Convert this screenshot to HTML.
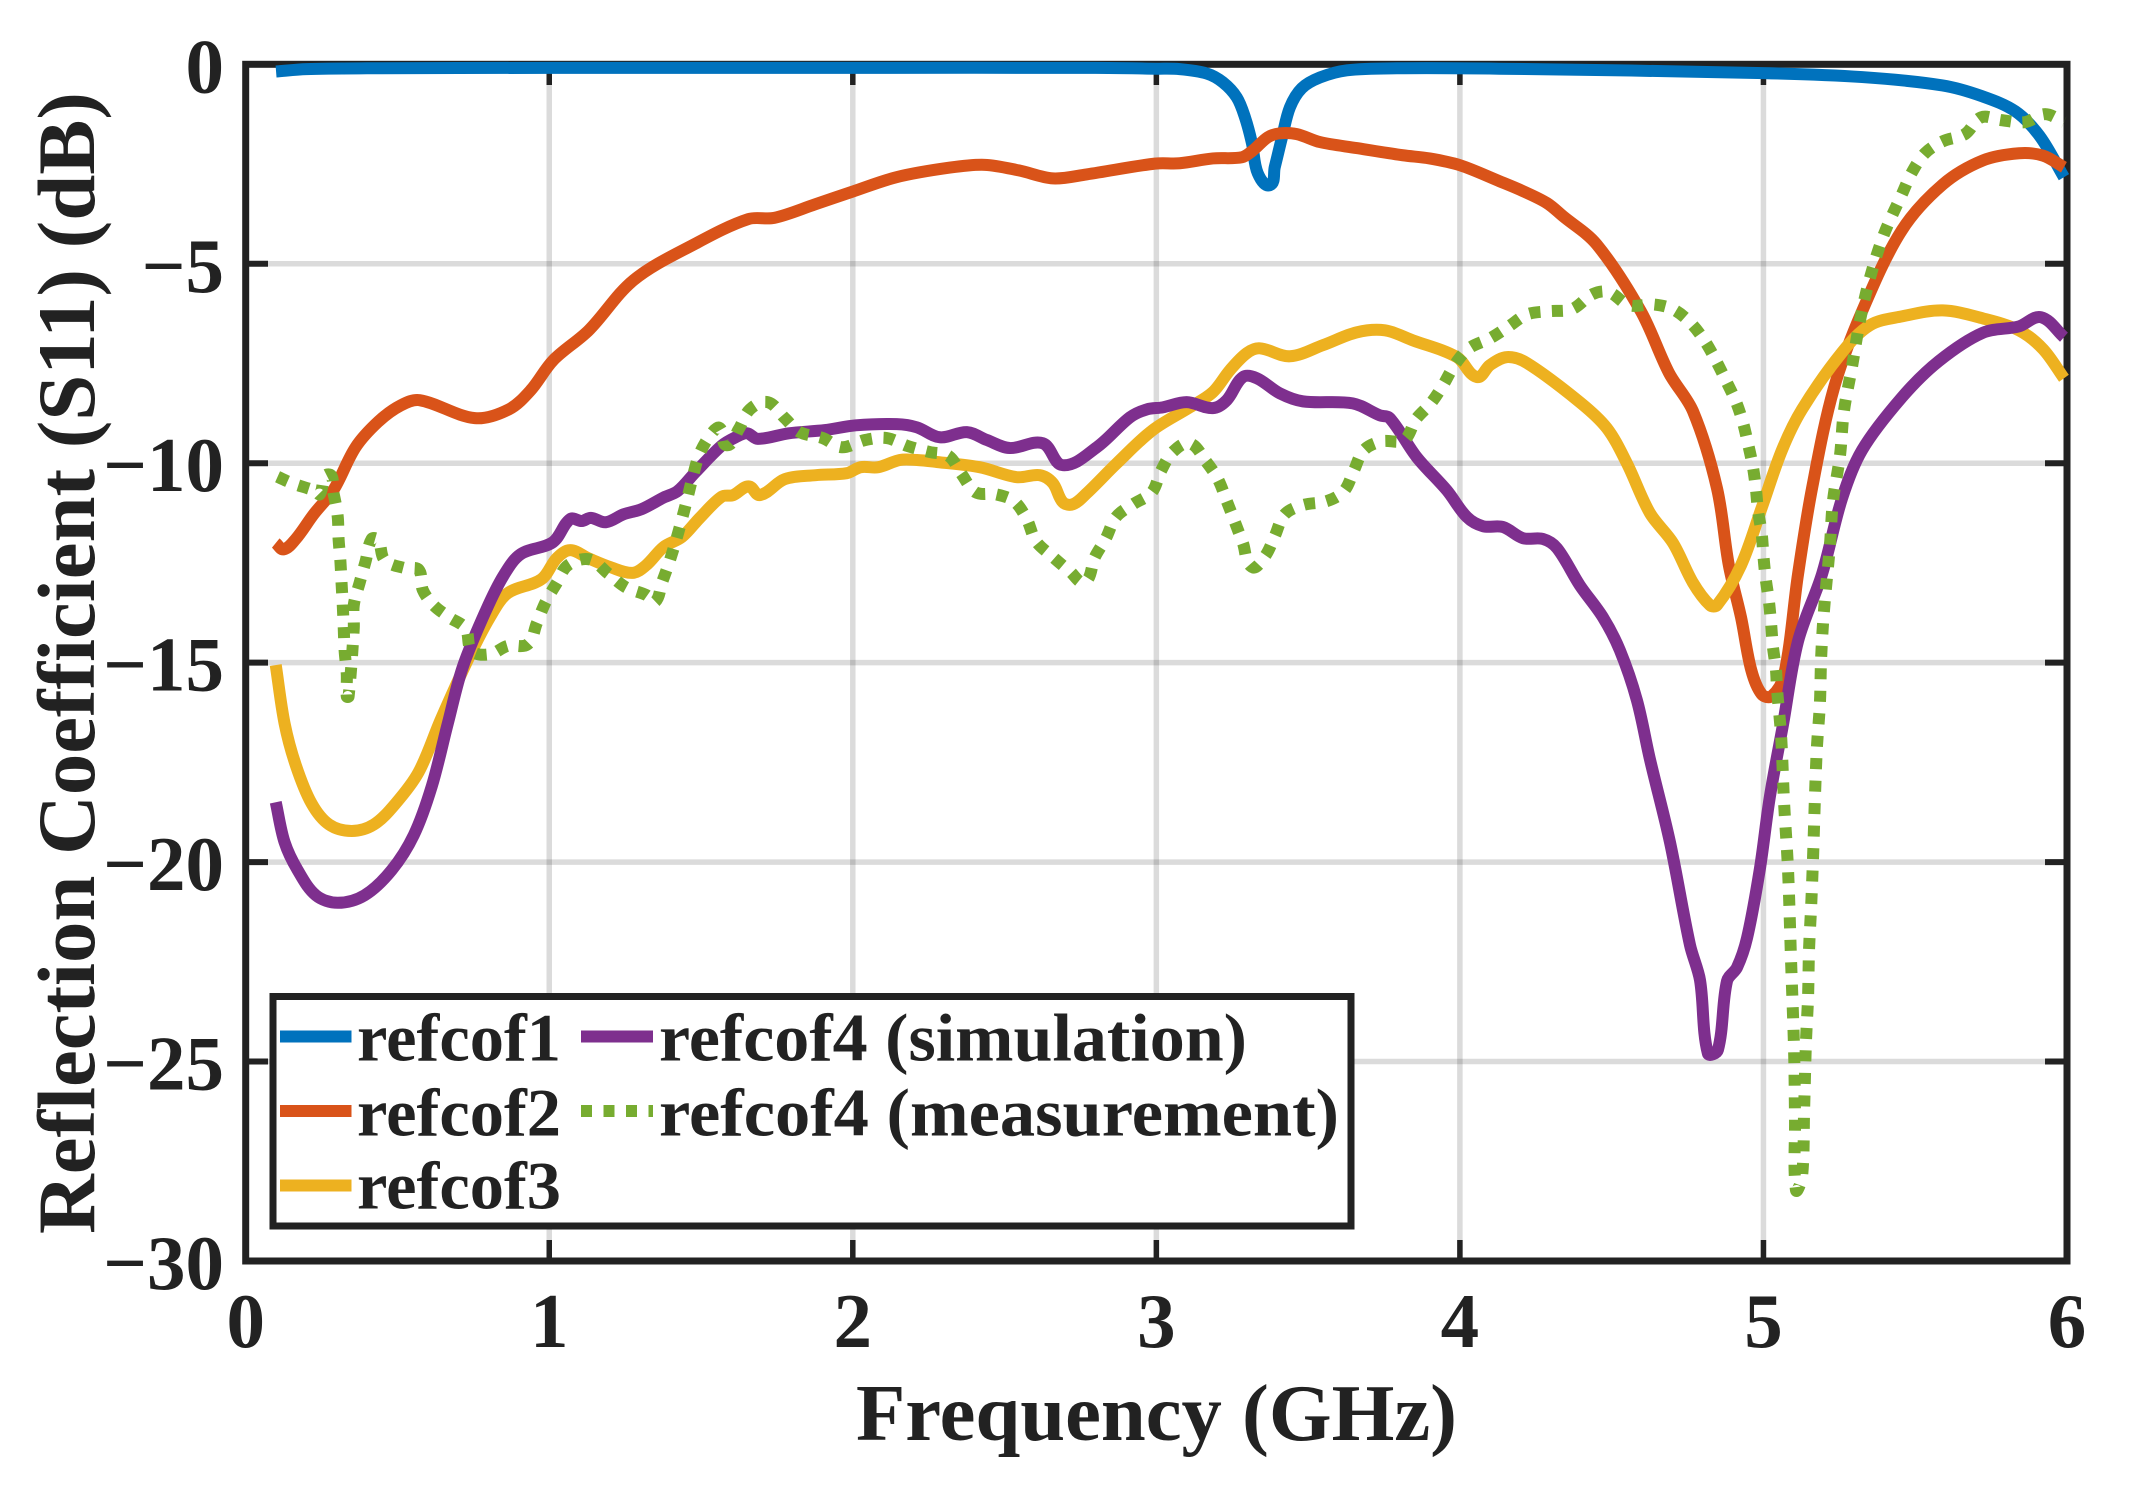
<!DOCTYPE html>
<html>
<head>
<meta charset="utf-8">
<title>Reflection Coefficient</title>
<style>
html,body{margin:0;padding:0;background:#fff;}
svg{display:block;}
text{font-family:"Liberation Serif",serif;font-weight:bold;fill:#222;}
</style>
</head>
<body>
<svg id="chart" xmlns="http://www.w3.org/2000/svg" width="2131" height="1499" viewBox="0 0 2131 1499">
  <rect x="0" y="0" width="2131" height="1499" fill="#fff"/>
  <g id="grid"></g>
  <rect x="245.7" y="64.3" width="1821.3" height="1196.7" fill="none" stroke="#222" stroke-width="7"/>
  <g id="ticks"></g>
  <g id="series"></g>
  <g id="tick-labels"></g>
  <text x="1156.5" y="1440" font-size="80" text-anchor="middle" textLength="601" lengthAdjust="spacingAndGlyphs">Frequency (GHz)</text>
  <text transform="translate(94,663) rotate(-90)" x="0" y="0" font-size="82" text-anchor="middle" textLength="1142" lengthAdjust="spacingAndGlyphs">Reflection Coefficient (S11) (dB)</text>
  <g>
    <rect x="273" y="996.5" width="1078" height="229.5" fill="#fff" stroke="#222" stroke-width="7"/>
    <line x1="280" x2="351.5" y1="1036.5" y2="1036.5" stroke="#0072BD" stroke-width="12"/>
    <text x="357" y="1060.5" font-size="68" textLength="204" lengthAdjust="spacingAndGlyphs">refcof1</text>
    <line x1="280" x2="351.5" y1="1111" y2="1111" stroke="#D95319" stroke-width="12"/>
    <text x="357" y="1135.5" font-size="68" textLength="204" lengthAdjust="spacingAndGlyphs">refcof2</text>
    <line x1="280" x2="351.5" y1="1185.5" y2="1185.5" stroke="#EDB120" stroke-width="12"/>
    <text x="357" y="1208.5" font-size="68" textLength="204" lengthAdjust="spacingAndGlyphs">refcof3</text>
    <line x1="581" x2="653" y1="1036.5" y2="1036.5" stroke="#7E2F8E" stroke-width="12"/>
    <text x="659" y="1060.5" font-size="68" textLength="588" lengthAdjust="spacingAndGlyphs">refcof4 (simulation)</text>
    <line x1="581" x2="653" y1="1111" y2="1111" stroke="#77AC30" stroke-width="12" stroke-dasharray="11 11.5"/>
    <text x="659" y="1135.5" font-size="68" textLength="680" lengthAdjust="spacingAndGlyphs">refcof4 (measurement)</text>
  </g>
</svg>
<script>
const xTickValues = [0, 1, 2, 3, 4, 5, 6];
const xTickLabels = ["0", "1", "2", "3", "4", "5", "6"];
const yTickValues = [0, -5, -10, -15, -20, -25, -30];
const yTickLabels = ["0", "\u22125", "\u221210", "\u221215", "\u221220", "\u221225", "\u221230"];

const refcof1Freq = [0.1,0.2,0.4,1,2,2.8,3.0,3.077,3.166,3.219,3.265,3.292,3.315,3.334,3.374,3.39,3.414,3.44,3.479,3.539,3.628,3.793,4.13,5,5.325,5.59,5.72,5.83,5.91,5.99];
const refcof1Values = [-0.18,-0.12,-0.1,-0.09,-0.09,-0.09,-0.11,-0.12,-0.23,-0.45,-0.83,-1.33,-1.98,-2.73,-3.03,-2.58,-1.83,-1.08,-0.6,-0.33,-0.15,-0.1,-0.11,-0.22,-0.32,-0.53,-0.8,-1.18,-1.8,-2.83];

const refcof2Freq = [0.099,0.125,0.165,0.224,0.29,0.362,0.438,0.511,0.573,0.755,0.867,0.939,1.013,1.13,1.278,1.483,1.656,1.741,1.876,1.996,2.144,2.32,2.435,2.547,2.659,2.77,2.995,3.077,3.186,3.282,3.318,3.367,3.407,3.463,3.539,3.66,3.812,3.9,4.0,4.13,4.208,4.287,4.34,4.45,4.596,4.689,4.768,4.847,4.886,4.926,4.96,4.994,5.027,5.068,5.114,5.16,5.232,5.325,5.456,5.591,5.723,5.842,5.921,5.99];
const refcof2Values = [-12.0,-12.16,-11.9,-11.28,-10.66,-9.6,-8.95,-8.55,-8.42,-8.87,-8.65,-8.17,-7.42,-6.67,-5.41,-4.49,-3.88,-3.85,-3.51,-3.2,-2.83,-2.59,-2.52,-2.66,-2.86,-2.76,-2.49,-2.48,-2.36,-2.33,-2.16,-1.83,-1.73,-1.75,-1.95,-2.1,-2.28,-2.36,-2.53,-2.93,-3.18,-3.48,-3.81,-4.51,-6.19,-7.74,-8.7,-10.63,-12.56,-13.86,-15.19,-15.79,-15.84,-15.31,-12.78,-10.63,-8.12,-6.19,-4.16,-3.01,-2.41,-2.23,-2.29,-2.58];

const refcof3Freq = [0.099,0.128,0.165,0.217,0.275,0.349,0.422,0.494,0.57,0.643,0.731,0.804,0.863,0.974,1.025,1.069,1.128,1.203,1.275,1.319,1.377,1.437,1.496,1.568,1.606,1.657,1.694,1.776,1.878,1.98,2.026,2.084,2.155,2.211,2.277,2.418,2.54,2.616,2.659,2.692,2.725,2.771,2.87,2.988,3.11,3.186,3.242,3.298,3.341,3.44,3.549,3.66,3.753,3.845,3.99,4.056,4.099,4.155,4.221,4.395,4.484,4.55,4.626,4.702,4.768,4.824,4.847,4.926,4.995,5.061,5.127,5.259,5.351,5.456,5.591,5.723,5.842,5.921,5.99];
const refcof3Values = [-15.06,-16.52,-17.57,-18.53,-19.06,-19.22,-19.06,-18.53,-17.74,-16.42,-14.94,-13.87,-13.26,-12.91,-12.38,-12.18,-12.38,-12.61,-12.75,-12.56,-12.1,-11.85,-11.37,-10.84,-10.8,-10.58,-10.8,-10.4,-10.3,-10.25,-10.1,-10.1,-9.92,-9.92,-9.97,-10.1,-10.35,-10.3,-10.5,-10.98,-11.03,-10.75,-10.0,-9.17,-8.6,-8.22,-7.67,-7.24,-7.12,-7.32,-7.04,-6.72,-6.67,-6.92,-7.34,-7.84,-7.54,-7.34,-7.49,-8.47,-9.12,-10.0,-11.25,-12.0,-13.0,-13.56,-13.56,-12.56,-11.1,-9.67,-8.65,-7.22,-6.54,-6.32,-6.17,-6.37,-6.67,-7.14,-7.87];

const refcof4SimFreq = [0.099,0.128,0.171,0.231,0.303,0.392,0.481,0.554,0.613,0.666,0.715,0.791,0.85,0.906,1.012,1.069,1.107,1.137,1.186,1.245,1.305,1.377,1.423,1.481,1.568,1.614,1.651,1.687,1.789,1.908,2.01,2.145,2.211,2.287,2.376,2.442,2.517,2.626,2.692,2.804,2.913,2.969,3.021,3.1,3.186,3.232,3.285,3.331,3.407,3.483,3.647,3.736,3.769,3.858,3.957,4.023,4.076,4.142,4.208,4.274,4.32,4.395,4.471,4.527,4.583,4.626,4.692,4.758,4.791,4.817,4.85,4.88,4.913,4.946,4.988,5.021,5.064,5.114,5.193,5.259,5.325,5.456,5.578,5.723,5.842,5.914,5.99];
const refcof4SimValues = [-18.5,-19.5,-20.2,-20.83,-21.02,-20.83,-20.2,-19.32,-18.1,-16.52,-15.11,-13.7,-12.81,-12.28,-11.98,-11.4,-11.45,-11.37,-11.48,-11.28,-11.15,-10.86,-10.7,-10.23,-9.56,-9.35,-9.25,-9.39,-9.25,-9.17,-9.05,-9.02,-9.1,-9.35,-9.22,-9.42,-9.62,-9.5,-10.05,-9.6,-8.85,-8.65,-8.6,-8.47,-8.62,-8.42,-7.84,-7.87,-8.25,-8.45,-8.5,-8.8,-8.87,-9.85,-10.68,-11.35,-11.58,-11.6,-11.88,-11.9,-12.13,-13.06,-13.86,-14.69,-15.94,-17.42,-19.5,-22.08,-22.96,-24.8,-24.71,-22.98,-22.64,-21.9,-20.18,-18.37,-16.57,-14.46,-12.78,-10.88,-9.67,-8.35,-7.44,-6.73,-6.57,-6.34,-6.84];

const refcof4MeasFreq = [0.105,0.152,0.231,0.244,0.272,0.29,0.303,0.306,0.312,0.316,0.32,0.323,0.326,0.333,0.333,0.339,0.356,0.356,0.376,0.395,0.415,0.437,0.458,0.524,0.57,0.583,0.619,0.672,0.724,0.745,0.804,0.863,0.929,0.959,0.988,1.025,1.061,1.133,1.193,1.252,1.321,1.348,1.371,1.394,1.417,1.437,1.456,1.473,1.496,1.535,1.562,1.585,1.624,1.661,1.72,1.776,1.825,1.901,1.964,2.04,2.112,2.181,2.254,2.316,2.359,2.405,2.471,2.531,2.573,2.603,2.656,2.715,2.764,2.797,2.834,2.867,2.923,2.985,3.015,3.054,3.11,3.163,3.203,3.232,3.259,3.285,3.315,3.358,3.39,3.423,3.483,3.562,3.618,3.651,3.684,3.743,3.816,3.855,3.904,3.944,3.984,4.03,4.099,4.161,4.221,4.293,4.369,4.438,4.491,4.557,4.636,4.702,4.761,4.807,4.843,4.876,4.909,4.932,4.949,4.965,4.975,4.982,4.994,5.0,5.007,5.018,5.025,5.031,5.041,5.045,5.058,5.068,5.081,5.091,5.101,5.104,5.107,5.127,5.134,5.14,5.147,5.15,5.157,5.163,5.17,5.176,5.186,5.19,5.199,5.219,5.229,5.252,5.265,5.292,5.318,5.351,5.397,5.456,5.489,5.532,5.591,5.664,5.717,5.783,5.862,5.928,5.99];
const refcof4MeasValues = [-10.34,-10.5,-10.7,-10.78,-10.28,-10.78,-11.33,-11.9,-12.46,-13.03,-13.6,-14.14,-14.71,-15.29,-15.85,-15.85,-14.14,-13.56,-12.98,-12.46,-11.9,-11.93,-12.43,-12.63,-12.67,-13.17,-13.56,-13.87,-14.14,-14.71,-14.79,-14.58,-14.54,-14.01,-13.48,-13.0,-12.56,-12.41,-12.76,-13.11,-13.31,-13.48,-13.0,-12.51,-11.95,-11.4,-10.85,-10.33,-9.75,-9.25,-9.12,-9.55,-9.15,-8.65,-8.47,-8.87,-9.22,-9.37,-9.6,-9.42,-9.37,-9.57,-9.72,-9.82,-10.28,-10.73,-10.78,-10.95,-11.4,-11.95,-12.33,-12.71,-12.98,-12.36,-11.88,-11.35,-11.03,-10.73,-10.2,-9.72,-9.5,-9.95,-10.4,-10.95,-11.48,-12.0,-12.6,-12.33,-11.83,-11.28,-11.05,-10.95,-10.7,-10.18,-9.67,-9.45,-9.42,-8.9,-8.5,-8.05,-7.52,-7.12,-6.87,-6.57,-6.27,-6.19,-6.14,-5.76,-5.71,-6.04,-6.02,-6.14,-6.49,-6.94,-7.42,-7.92,-8.45,-8.97,-9.51,-10.08,-10.63,-11.19,-11.75,-12.33,-12.87,-13.46,-14.01,-14.59,-15.16,-15.69,-16.82,-18.52,-20.2,-22.48,-24.74,-26.44,-28.22,-27.89,-26.19,-24.51,-23.38,-22.23,-21.13,-19.97,-18.3,-17.14,-16.02,-14.89,-13.73,-12.06,-10.95,-9.82,-8.7,-7.57,-6.42,-5.35,-4.26,-3.26,-2.71,-2.23,-1.93,-1.75,-1.33,-1.4,-1.45,-1.25,-1.45];

const SVG_NS = "http://www.w3.org/2000/svg";
function xScale(f) { return 245.7 + 303.55 * f; }
function yScale(db) { return 64.3 - 39.89 * db; }

function makeLine(parent, x1, y1, x2, y2, stroke, width, opacity) {
  const el = document.createElementNS(SVG_NS, "line");
  el.setAttribute("x1", x1);
  el.setAttribute("y1", y1);
  el.setAttribute("x2", x2);
  el.setAttribute("y2", y2);
  el.setAttribute("stroke", stroke);
  el.setAttribute("stroke-width", width);
  if (opacity) el.setAttribute("stroke-opacity", opacity);
  parent.appendChild(el);
  return el;
}
function makeLabel(parent, x, y, anchor, str) {
  const el = document.createElementNS(SVG_NS, "text");
  el.setAttribute("x", x);
  el.setAttribute("y", y);
  el.setAttribute("font-size", "77");
  el.setAttribute("text-anchor", anchor);
  el.textContent = str;
  parent.appendChild(el);
  return el;
}

const gridGroup = document.getElementById("grid");
const tickGroup = document.getElementById("ticks");
const labelGroup = document.getElementById("tick-labels");
const seriesGroup = document.getElementById("series");

xTickValues.forEach(function (v, i) {
  const x = xScale(v);
  if (v > 0 && v < 6) {
    const g = makeLine(gridGroup, x, 64, x, 1261, "#000", 5.5, 0.14);
    
    
    const t1 = makeLine(tickGroup, x, 1261, x, 1240, "#222", 5.5);
    
    
    const t2 = makeLine(tickGroup, x, 64, x, 85, "#222", 5.5);
    
    
  }
  const lab = makeLabel(labelGroup, x, 1347, "middle", xTickLabels[i]);
  
  
});

yTickValues.forEach(function (v, i) {
  const y = yScale(v);
  if (v < 0 && v > -30) {
    const g = makeLine(gridGroup, 246, y, 2067, y, "#000", 5.5, 0.14);
    
    
    const t1 = makeLine(tickGroup, 246, y, 268, y, "#222", 6);
    
    
    const t2 = makeLine(tickGroup, 2067, y, 2045, y, "#222", 6);
    
    
  }
  const lab = makeLabel(labelGroup, 224, y + 28, "end", yTickLabels[i]);
  
  
});

function smoothPath(freqs, values) {
  const px = freqs.map(xScale);
  const py = values.map(yScale);
  const n = px.length;
  function tangent(i) {
    const a = Math.max(i - 1, 0);
    const b = Math.min(i + 1, n - 1);
    const dx = px[b] - px[a];
    const dy = py[b] - py[a];
    const len = Math.hypot(dx, dy) || 1;
    return [dx / len, dy / len];
  }
  let d = "M" + px[0].toFixed(2) + " " + py[0].toFixed(2);
  for (let i = 0; i < n - 1; i++) {
    const seg = Math.hypot(px[i + 1] - px[i], py[i + 1] - py[i]) * 0.33;
    const t0 = tangent(i);
    const t1 = tangent(i + 1);
    d += " C" + (px[i] + t0[0] * seg).toFixed(2) + " " + (py[i] + t0[1] * seg).toFixed(2) +
         " " + (px[i + 1] - t1[0] * seg).toFixed(2) + " " + (py[i + 1] - t1[1] * seg).toFixed(2) +
         " " + px[i + 1].toFixed(2) + " " + py[i + 1].toFixed(2);
  }
  return d;
}

function drawSeries(freqs, values, color, dash) {
  const el = document.createElementNS(SVG_NS, "path");
  el.setAttribute("d", smoothPath(freqs, values));
  el.setAttribute("fill", "none");
  el.setAttribute("stroke", color);
  el.setAttribute("stroke-width", "12");
  el.setAttribute("stroke-linejoin", "round");
  if (dash) el.setAttribute("stroke-dasharray", dash);
  seriesGroup.appendChild(el);
  return el;
}

const line1 = drawSeries(refcof1Freq, refcof1Values, "#0072BD");


const line2 = drawSeries(refcof2Freq, refcof2Values, "#D95319");


const line3 = drawSeries(refcof3Freq, refcof3Values, "#EDB120");


const line4 = drawSeries(refcof4SimFreq, refcof4SimValues, "#7E2F8E");


const line5 = drawSeries(refcof4MeasFreq, refcof4MeasValues, "#77AC30", "11 11.5");


</script>
</body>
</html>
